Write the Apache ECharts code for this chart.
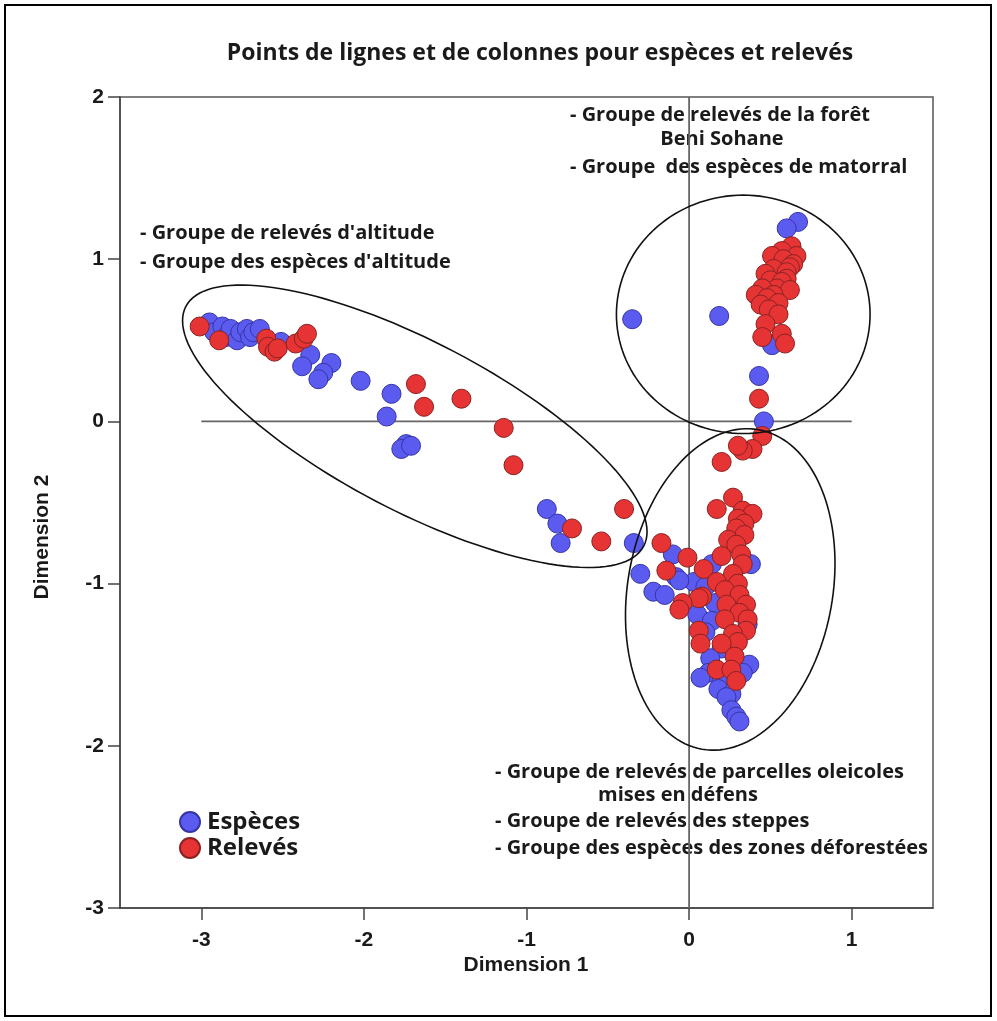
<!DOCTYPE html>
<html>
<head>
<meta charset="utf-8">
<script src="https://cdn.jsdelivr.net/npm/echarts@6/dist/echarts.min.js"></script>
<style>
  html, body { margin: 0; padding: 0; background: #fff; }
  #chart { width: 997px; height: 1021px; }
</style>
</head>
<body>
<div id="chart"></div>
<script>
// Espèces (colonnes) : [dimension 1, dimension 2]
var especes = [
  [-2.95, 0.61], [-2.92, 0.55], [-2.87, 0.585], [-2.85, 0.52], [-2.82, 0.57], [-2.78, 0.50],
  [-2.76, 0.55], [-2.72, 0.57], [-2.70, 0.52], [-2.68, 0.55], [-2.64, 0.57], [-2.51, 0.49],
  [-2.33, 0.41], [-2.38, 0.34], [-2.20, 0.36], [-2.25, 0.30], [-2.28, 0.26], [-2.02, 0.25],
  [-1.83, 0.17], [-1.86, 0.03], [-1.74, -0.14], [-1.77, -0.17], [-1.71, -0.15],
  [-0.875, -0.54], [-0.81, -0.63], [-0.79, -0.75], [-0.34, -0.75], [-0.10, -0.82],
  [-0.30, -0.94], [-0.08, -0.96], [-0.22, -1.05], [-0.15, -1.07],
  [-0.35, 0.63], [0.185, 0.65], [0.67, 1.23], [0.60, 1.19], [0.55, 0.95], [0.51, 0.47],
  [0.43, 0.28], [0.46, 0.0],
  [0.03, -0.99], [-0.06, -0.98], [0.14, -0.88], [0.38, -0.88], [0.10, -1.02], [0.16, -1.12],
  [0.05, -1.19], [0.14, -1.23], [0.36, -1.25], [0.10, -1.30], [0.20, -1.40], [0.13, -1.46],
  [0.37, -1.50], [0.33, -1.55], [0.12, -1.55], [0.07, -1.58], [0.20, -1.60], [0.18, -1.65],
  [0.26, -1.68], [0.23, -1.70], [0.26, -1.78], [0.29, -1.82], [0.31, -1.85]
];

// Relevés (lignes) : [dimension 1, dimension 2]
var releves = [
  [-3.01, 0.585], [-2.89, 0.50], [-2.60, 0.51], [-2.59, 0.46], [-2.55, 0.43], [-2.53, 0.45],
  [-2.42, 0.48], [-2.37, 0.51], [-2.35, 0.54], [-1.68, 0.23], [-1.63, 0.09], [-1.40, 0.14],
  [-1.14, -0.04], [-1.08, -0.27], [-0.72, -0.66], [-0.54, -0.74], [-0.40, -0.54],
  [-0.17, -0.75], [-0.01, -0.84], [-0.14, -0.92],
  [0.63, 1.08], [0.57, 1.05], [0.51, 1.02], [0.66, 1.02], [0.58, 1.00], [0.64, 0.97],
  [0.62, 0.95], [0.52, 0.94], [0.60, 0.92], [0.47, 0.91], [0.60, 0.88], [0.50, 0.87],
  [0.57, 0.86], [0.54, 0.82], [0.45, 0.82], [0.62, 0.81], [0.41, 0.78], [0.52, 0.78],
  [0.48, 0.76], [0.55, 0.73], [0.44, 0.72], [0.49, 0.69], [0.55, 0.66], [0.47, 0.60],
  [0.45, 0.52], [0.57, 0.54], [0.59, 0.48], [0.43, 0.14],
  [0.45, -0.09], [0.39, -0.17], [0.33, -0.18], [0.30, -0.15], [0.20, -0.25],
  [0.17, -0.54], [0.27, -0.47], [0.33, -0.55], [0.39, -0.57], [0.30, -0.60], [0.34, -0.63],
  [0.29, -0.66], [0.34, -0.70], [0.24, -0.73], [0.29, -0.76], [0.20, -0.83], [0.32, -0.82],
  [0.33, -0.88], [0.09, -0.91], [0.27, -0.94], [0.17, -0.99], [0.30, -1.00], [0.22, -1.04],
  [0.31, -1.07], [0.08, -1.08], [0.06, -1.09], [-0.04, -1.12], [0.23, -1.13], [0.35, -1.13],
  [-0.06, -1.16], [0.31, -1.18], [0.22, -1.22], [0.36, -1.22], [0.06, -1.29], [0.35, -1.29],
  [0.27, -1.31], [0.30, -1.36], [0.07, -1.37], [0.20, -1.37], [0.28, -1.45], [0.17, -1.53],
  [0.26, -1.53], [0.29, -1.60]
];

// regroupements : [centre x, centre y, demi-axe a, demi-axe b, angle (degrés)]
var groupEllipses = [
  [-1.687, -0.03, 1.59, 0.52, -27.7],
  [0.333, 0.66, 0.78, 0.735, 0],
  [0.253, -1.036, 1.0, 0.63, 80]
];

var xTicks = [-3, -2, -1, 0, 1];
var axeHorizontal = [[-3, 0], [1, 0]];
var axeVertical = [[0, -3], [0, 2]];

var titre = 'Points de lignes et de colonnes pour espèces et relevés';
var notesForet = ['- Groupe de relevés de la forêt', 'Beni Sohane', '- Groupe  des espèces de matorral'];
var notesAltitude = ['- Groupe de relevés d\'altitude', '- Groupe des espèces d\'altitude'];
var notesDefens = ['- Groupe de relevés de parcelles oleicoles', 'mises en défens',
  '- Groupe de relevés des steppes', '- Groupe des espèces des zones déforestées'];

var noteFont = 'bold 20px "Open Sans"';
var axisFont = 'Liberation Sans';
var ink = '#1a1a1a';

function note(text, x, y, align) {
  return {
    type: 'text', x: x, y: y, z: 1,
    style: { text: text, font: noteFont, fill: ink, align: align || 'left', verticalAlign: 'middle' }
  };
}

var chart = echarts.init(document.getElementById('chart'));

chart.setOption({
  backgroundColor: '#fff',
  animation: false,
  title: {
    text: titre, left: 535, top: 37, textAlign: 'center',
    textStyle: { fontFamily: 'Open Sans', fontWeight: 'bold', fontSize: 23, color: ink }
  },
  legend: {
    left: 174, top: 805, orient: 'vertical', itemGap: 2,
    itemWidth: 20, itemHeight: 20, icon: 'circle',
    textStyle: { fontFamily: 'Open Sans', fontWeight: 'bold', fontSize: 24, color: ink, padding: [0, 0, 0, 2] },
    data: ['Espèces', 'Relevés']
  },
  grid: {
    left: 120, top: 97, right: 64, bottom: 113,
    show: true, borderColor: '#555', borderWidth: 1.5
  },
  xAxis: {
    type: 'value', min: -3.5, max: 1.5, interval: 0.5,
    splitLine: { show: false },
    axisLine: { onZero: false, lineStyle: { color: '#444', width: 1.5 } },
    axisTick: { customValues: xTicks, length: 12, lineStyle: { color: '#444', width: 1.5 } },
    axisLabel: {
      customValues: xTicks, margin: 22, color: ink,
      fontFamily: axisFont, fontWeight: 'bold', fontSize: 21
    }
  },
  yAxis: {
    type: 'value', min: -3, max: 2, interval: 1,
    splitLine: { show: false },
    axisLine: { onZero: false, lineStyle: { color: '#444', width: 1.5 } },
    axisTick: { length: 12, lineStyle: { color: '#444', width: 1.5 } },
    axisLabel: { margin: 16, color: ink, fontFamily: axisFont, fontWeight: 'bold', fontSize: 21 }
  },
  graphic: [
    { type: 'rect', shape: { x: 5, y: 5, width: 986, height: 1011 }, style: { fill: 'none', stroke: '#000', lineWidth: 2 }, z: 0 },
    note(notesForet[0], 570, 115),
    note(notesForet[1], 722, 139, 'center'),
    note(notesForet[2], 570, 167),
    note(notesAltitude[0], 140, 233),
    note(notesAltitude[1], 140, 262),
    note(notesDefens[0], 495, 772),
    note(notesDefens[1], 678, 795, 'center'),
    note(notesDefens[2], 495, 821),
    note(notesDefens[3], 495, 848),
    {
      type: 'text', x: 526, y: 965,
      style: { text: 'Dimension 1', font: 'bold 21px "Liberation Sans"', fill: ink, align: 'center', verticalAlign: 'middle' }
    },
    {
      type: 'text', x: 42, y: 537, rotation: Math.PI / 2,
      style: { text: 'Dimension 2', font: 'bold 21px "Liberation Sans"', fill: ink, align: 'center', verticalAlign: 'middle' }
    }
  ],
  series: [
    {
      type: 'line', data: axeHorizontal, symbol: 'none', silent: true, z: 3,
      lineStyle: { color: '#666', width: 1.8 }
    },
    {
      type: 'line', data: axeVertical, symbol: 'none', silent: true, z: 3,
      lineStyle: { color: '#666', width: 1.8 }
    },
    {
      name: 'Espèces', type: 'scatter', data: especes, symbolSize: 19, z: 4,
      itemStyle: { color: '#5b5bf0', borderColor: '#3535a5', borderWidth: 1, opacity: 1 }
    },
    {
      name: 'Relevés', type: 'scatter', data: releves, symbolSize: 19, z: 5,
      itemStyle: { color: '#e63434', borderColor: '#8a2222', borderWidth: 1, opacity: 1 }
    },
    {
      type: 'custom', data: groupEllipses, silent: true, z: 6, clip: false,
      encode: { x: 0, y: 1 },
      renderItem: function (params, api) {
        var cx = api.value(0), cy = api.value(1);
        var a = api.value(2), b = api.value(3);
        var ang = api.value(4) * Math.PI / 180;
        var pts = [];
        for (var k = 0; k < 144; k++) {
          var t = k / 144 * 2 * Math.PI;
          var ex = a * Math.cos(t), ey = b * Math.sin(t);
          pts.push(api.coord([
            cx + ex * Math.cos(ang) - ey * Math.sin(ang),
            cy + ex * Math.sin(ang) + ey * Math.cos(ang)
          ]));
        }
        return {
          type: 'polygon', shape: { points: pts },
          style: { fill: 'none', stroke: '#111', lineWidth: 1.6 }
        };
      }
    }
  ]
});
</script>
</body>
</html>
